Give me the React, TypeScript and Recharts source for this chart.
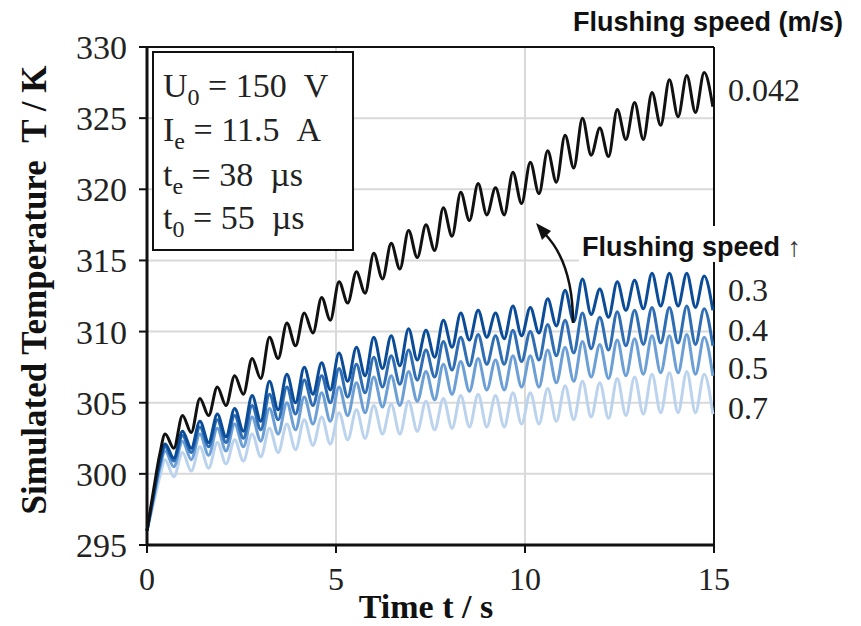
import React from "react";
import {
  LineChart,
  Line,
  XAxis,
  YAxis,
  CartesianGrid,
  ReferenceLine,
} from "recharts";

// time stamps (s): start-up, then alternating peak / trough of each heating cycle
const TIME = [
  0, 0.17, 0.34,
  0.48, 0.71, 0.94, 1.17, 1.4, 1.63, 1.86, 2.09, 2.32, 2.55, 2.78, 3.01,
  3.24, 3.47, 3.7, 3.93, 4.16, 4.39, 4.62, 4.85, 5.08, 5.31, 5.54, 5.77,
  6.0, 6.23, 6.46, 6.69, 6.92, 7.15, 7.38, 7.61, 7.84, 8.07, 8.3, 8.53,
  8.76, 8.99, 9.22, 9.45, 9.68, 9.91, 10.14, 10.37, 10.6, 10.83, 11.06, 11.29,
  11.52, 11.75, 11.98, 12.21, 12.44, 12.67, 12.9, 13.13, 13.36, 13.59, 13.82, 14.05,
  14.28, 14.51, 14.74, 14.97,
];

// simulated temperature (K) per flushing speed
const T_0042 = [
  296.0, 298.8, 301.4,
  302.8, 301.8, 304.1, 302.9, 305.3, 304.1, 306.1, 304.8, 306.9, 305.6, 308.1, 306.7,
  309.6, 308.1, 310.6, 309.0, 311.3, 309.9, 312.4, 310.8, 313.5, 312.0, 314.2, 312.7,
  315.5, 313.7, 316.2, 314.4, 317.1, 315.2, 317.5, 315.7, 318.7, 316.7, 319.8, 317.8,
  320.4, 318.2, 320.1, 318.2, 321.2, 319.0, 321.9, 319.7, 322.7, 320.5, 323.8, 321.5,
  325.0, 322.4, 324.3, 322.3, 325.6, 323.5, 326.1, 323.5, 326.8, 324.5, 327.7, 325.1,
  328.0, 325.4, 328.2, 325.8,
];
const T_03 = [
  296.0, 298.5, 300.9,
  302.1, 301.1, 303.0, 301.8, 303.7, 302.2, 304.2, 302.6, 304.6, 303.0, 305.5, 303.7,
  306.5, 304.5, 307.0, 305.0, 307.5, 305.6, 307.8, 305.9, 308.5, 306.5, 308.9, 306.9,
  309.6, 307.4, 309.7, 307.6, 310.2, 308.0, 310.1, 308.2, 310.8, 308.9, 311.3, 309.4,
  311.5, 309.6, 311.3, 309.5, 311.8, 309.7, 311.7, 309.9, 312.3, 310.4, 312.9, 310.7,
  313.7, 311.2, 313.0, 311.0, 313.5, 311.5, 313.6, 311.6, 314.1, 311.8, 314.1, 311.8,
  314.1, 311.7, 313.9, 311.5,
];
const T_04 = [
  296.0, 298.4, 300.7,
  301.9, 300.9, 302.7, 301.5, 303.3, 301.9, 303.8, 302.2, 304.1, 302.5, 304.8, 303.1,
  305.6, 303.8, 306.1, 304.2, 306.6, 304.8, 306.9, 305.0, 307.4, 305.4, 307.7, 305.7,
  308.2, 306.1, 308.3, 306.3, 308.7, 306.6, 308.7, 306.8, 309.3, 307.3, 309.6, 307.6,
  309.8, 307.7, 309.7, 307.7, 310.1, 307.9, 310.0, 308.0, 310.5, 308.3, 310.8, 308.5,
  311.3, 308.8, 311.0, 308.7, 311.4, 309.0, 311.5, 309.1, 311.7, 309.2, 311.7, 309.2,
  311.8, 309.1, 311.6, 309.0,
];
const T_05 = [
  296.0, 298.2, 300.4,
  301.6, 300.5, 302.3, 301.0, 302.8, 301.3, 303.2, 301.6, 303.5, 301.9, 304.0, 302.3,
  304.6, 302.8, 305.0, 303.1, 305.4, 303.5, 305.7, 303.7, 306.1, 304.1, 306.4, 304.3,
  306.8, 304.7, 306.9, 304.8, 307.2, 305.1, 307.2, 305.2, 307.7, 305.6, 307.9, 305.8,
  308.1, 305.9, 308.0, 305.9, 308.3, 306.1, 308.3, 306.1, 308.7, 306.4, 308.9, 306.5,
  309.3, 306.8, 309.1, 306.7, 309.4, 306.9, 309.5, 307.0, 309.7, 307.1, 309.7, 307.1,
  309.8, 307.0, 309.6, 306.9,
];
const T_07 = [
  296.0, 297.9, 299.8,
  301.0, 299.8, 301.5, 300.2, 301.9, 300.4, 302.2, 300.7, 302.4, 300.9, 302.8, 301.2,
  303.2, 301.5, 303.5, 301.7, 303.8, 302.0, 304.0, 302.1, 304.3, 302.4, 304.5, 302.5,
  304.8, 302.8, 304.9, 302.8, 305.1, 303.0, 305.1, 303.1, 305.3, 303.2, 305.5, 303.3,
  305.6, 303.3, 305.5, 303.3, 305.7, 303.5, 305.7, 303.5, 306.0, 303.7, 306.2, 303.8,
  306.5, 304.0, 306.4, 303.9, 306.7, 304.1, 306.8, 304.2, 307.0, 304.3, 307.1, 304.3,
  307.2, 304.3, 307.0, 304.2,
];

const X_TICKS = [0, 5, 10, 15];
const Y_TICKS = [295, 300, 305, 310, 315, 320, 325, 330];

const SERIES = [
  { key: "v07", label: "0.7", color: "#bcd3ee" },
  { key: "v05", label: "0.5", color: "#6c9fd6" },
  { key: "v04", label: "0.4", color: "#2f6db4" },
  { key: "v03", label: "0.3", color: "#0b4c98" },
  { key: "v0042", label: "0.042", color: "#111111" },
];

const data = TIME.map((t, i) => ({
  t,
  v0042: T_0042[i],
  v03: T_03[i],
  v04: T_04[i],
  v05: T_05[i],
  v07: T_07[i],
}));

const serif = "'Liberation Serif', 'Times New Roman', serif";
const sans = "'Liberation Sans', Arial, sans-serif";
const sp = "\u00a0";

export default function App() {
  return (
    <div style={{ position: "absolute", left: 0, top: 0, width: 861, height: 626, background: "#fff" }}>
      <LineChart
        width={861}
        height={626}
        data={data}
        margin={{ top: 47, right: 147, bottom: 31, left: 67 }}
      >
        <CartesianGrid stroke="#d9d9d9" strokeWidth={2} />
        <XAxis
          dataKey="t"
          type="number"
          domain={[0, 15]}
          ticks={X_TICKS}
          height={50}
          tick={{ fill: "#222", fontSize: 32, fontFamily: serif }}
          tickSize={8}
          tickMargin={14}
          axisLine={{ stroke: "#111", strokeWidth: 3 }}
          tickLine={{ stroke: "#111", strokeWidth: 2 }}
        />
        <YAxis
          type="number"
          domain={[295, 330]}
          ticks={Y_TICKS}
          width={80}
          tick={{ fill: "#222", fontSize: 34, fontFamily: serif }}
          tickSize={8}
          tickMargin={12}
          axisLine={{ stroke: "#111", strokeWidth: 3 }}
          tickLine={{ stroke: "#111", strokeWidth: 2 }}
        />
        <ReferenceLine x={15} stroke="#111" strokeWidth={2} />
        <ReferenceLine y={330} stroke="#111" strokeWidth={2} />
        {SERIES.map((s) => (
          <Line
            key={s.key}
            dataKey={s.key}
            type="monotone"
            stroke={s.color}
            strokeWidth={3}
            dot={false}
            isAnimationActive={false}
          />
        ))}
      </LineChart>

      <svg
        width={861}
        height={626}
        style={{ position: "absolute", left: 0, top: 0, pointerEvents: "none" }}
      >
        {/* parameter box */}
        <rect x={153} y={52} width={200} height={198} fill="#fff" stroke="#111" strokeWidth={2} />
        <g fontFamily={serif} fontSize={34} fill="#222">
          <text x={163} y={97}>
            U<tspan fontSize={24} dy={8}>0</tspan>
            <tspan dy={-8}>{` = 150${sp}${sp}V`}</tspan>
          </text>
          <text x={163} y={141}>
            I<tspan fontSize={24} dy={8}>e</tspan>
            <tspan dy={-8}>{` = 11.5${sp}${sp}A`}</tspan>
          </text>
          <text x={163} y={186}>
            t<tspan fontSize={24} dy={8}>e</tspan>
            <tspan dy={-8}>{` = 38${sp}${sp}µs`}</tspan>
          </text>
          <text x={163} y={229}>
            t<tspan fontSize={24} dy={8}>0</tspan>
            <tspan dy={-8}>{` = 55${sp}${sp}µs`}</tspan>
          </text>
        </g>

        {/* axis titles */}
        <text
          x={34}
          y={290}
          transform="rotate(-90 34 290)"
          textAnchor="middle"
          dominantBaseline="central"
          fontFamily={serif}
          fontWeight="bold"
          fontSize={35}
          fill="#111"
        >
          {`Simulated Temperature${sp}${sp}T / K`}
        </text>
        <text
          x={426}
          y={618}
          textAnchor="middle"
          fontFamily={serif}
          fontWeight="bold"
          fontSize={34}
          fill="#111"
        >
          Time t / s
        </text>

        {/* flushing speed labels */}
        <text x={573} y={31} fontFamily={sans} fontWeight="bold" fontSize={27} fill="#111">
          Flushing speed (m/s)
        </text>
        <rect x={579} y={226} width={250} height={36} fill="#fff" />
        <text x={582} y={256} fontFamily={sans} fontWeight="bold" fontSize={27} fill="#111">
          Flushing speed <tspan fontWeight="normal" fill="#333">↑</tspan>
        </text>
        <g fontFamily={serif} fontSize={32} fill="#222" dominantBaseline="central">
          <text x={728} y={90}>0.042</text>
          <text x={728} y={290}>0.3</text>
          <text x={728} y={330}>0.4</text>
          <text x={728} y={368}>0.5</text>
          <text x={728} y={408}>0.7</text>
        </g>

        {/* curved arrow */}
        <path d="M 573 323 C 573 288, 566 256, 545 234" fill="none" stroke="#111" strokeWidth={2.5} />
        <polygon points="536,223 551,231 542,240" fill="#111" />
      </svg>
    </div>
  );
}
